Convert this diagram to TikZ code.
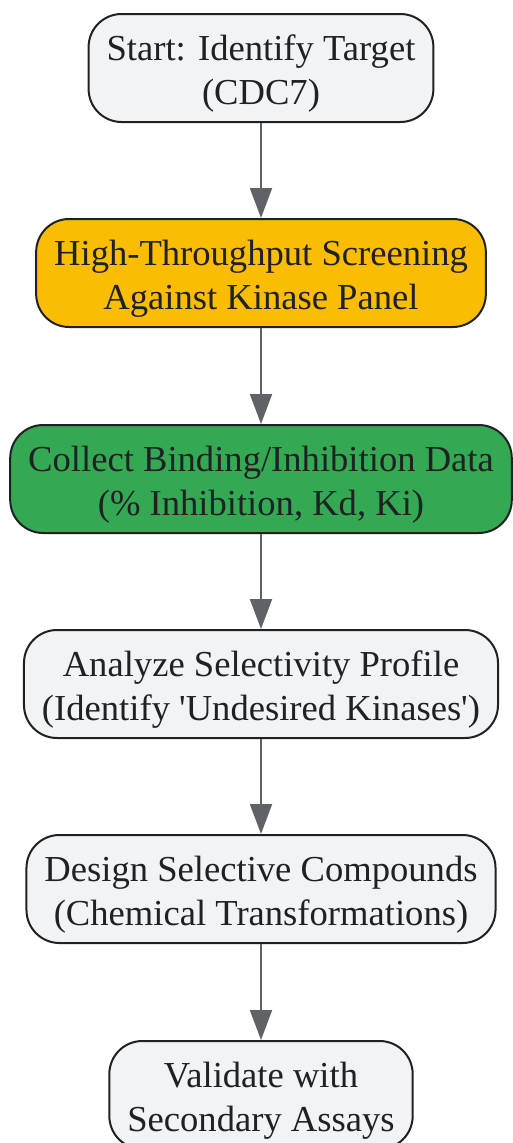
\documentclass[tikz,border=0pt]{standalone}
\usepackage{fontspec}
\setmainfont{Liberation Serif}
\usetikzlibrary{arrows.meta}

\definecolor{boxgray}{HTML}{F1F3F4}
\definecolor{boxorange}{HTML}{FBBC04}
\definecolor{boxgreen}{HTML}{34A853}
\definecolor{edgegray}{HTML}{5F6368}
\definecolor{inkdark}{HTML}{202124}

% struts that set the text lower in the box
\newcommand{\topstrut}{\rule{0pt}{37pt}}
\newcommand{\botstrut}{\rule[-7pt]{0pt}{0pt}}

\tikzset{
  stepbox/.style={draw=inkdark, line width=2pt, rounded corners=33pt,
    fill=boxgray, text=inkdark, align=center, inner xsep=18pt, inner ysep=4pt,
    minimum height=108pt, font=\fontsize{36.6}{44}\selectfont},
  flow/.style={draw=edgegray, line width=2pt,
    -{Triangle[length=30pt,width=22pt]}}
}

\begin{document}
\begin{tikzpicture}[x=1pt,y=-1pt]

    % Fix the page to the size of the reference
    \useasboundingbox (0,0) rectangle (513,1143);

    % Define the steps of the workflow, top to bottom
    \node[stepbox] (target) at (261,68) {\topstrut Start: Identify Target\\(CDC7)\botstrut};                      % Step 1
    \node[stepbox, fill=boxorange] (screen) at (261,273) {\topstrut High-Throughput Screening\\Against Kinase Panel\botstrut}; % Step 2
    \node[stepbox, fill=boxgreen] (collect) at (261,479) {\topstrut Collect Binding/Inhibition Data\\(\% Inhibition, Kd, Ki)\botstrut}; % Step 3
    \node[stepbox] (analyze) at (261,684) {\topstrut Analyze Selectivity Profile\\(Identify \textquotesingle Undesired Kinases\textquotesingle)\botstrut}; % Step 4
    \node[stepbox] (design) at (261,889) {\topstrut Design Selective Compounds\\(Chemical Transformations)\botstrut}; % Step 5
    \node[stepbox] (validate) at (261,1095) {\topstrut Validate with\\Secondary Assays\botstrut};                 % Step 6

    % Draw the arrows between the steps
    \draw[flow] (target) -- (screen);     % 1 -> 2
    \draw[flow] (screen) -- (collect);    % 2 -> 3
    \draw[flow] (collect) -- (analyze);   % 3 -> 4
    \draw[flow] (analyze) -- (design);    % 4 -> 5
    \draw[flow] (design) -- (validate);   % 5 -> 6

\end{tikzpicture}
\end{document}
